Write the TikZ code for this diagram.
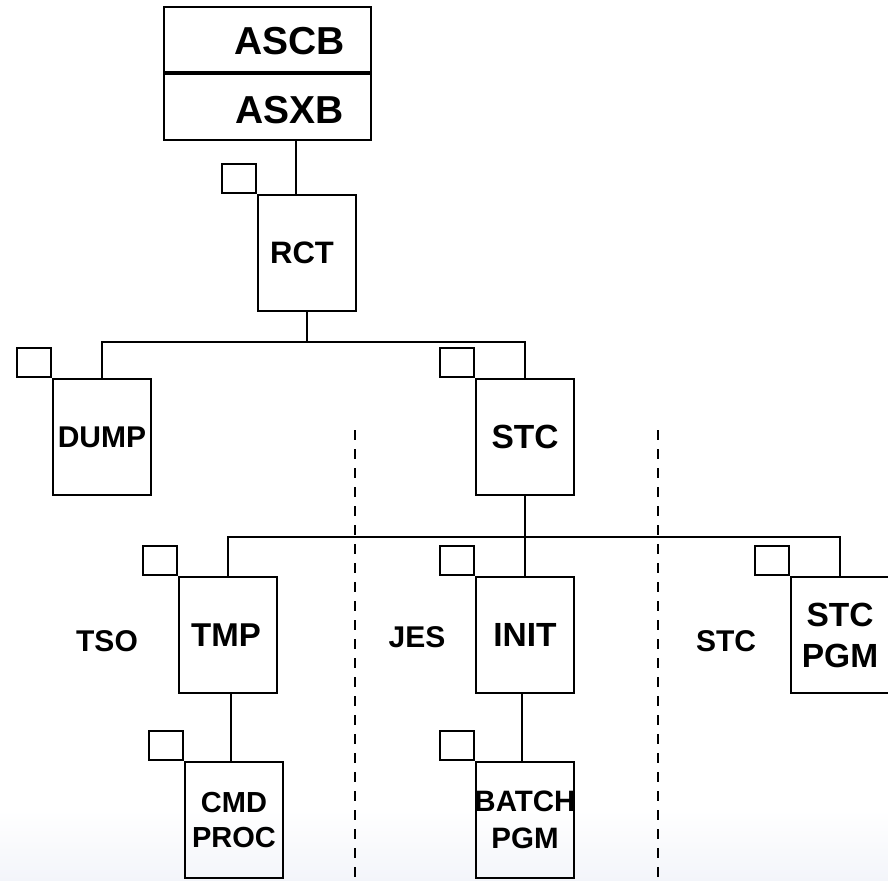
\documentclass[tikz,border=0pt]{standalone}
\usepackage{fontspec}
\setmainfont{Liberation Sans}
\usetikzlibrary{calc}
\definecolor{bgblue}{RGB}{243,245,250}
\newcommand\fsz[2]{\fontsize{#1}{#2}\selectfont\bfseries}
\begin{document}
\begin{tikzpicture}[x=1pt,y=-1pt,
  ln/.style={line width=2pt},
  box/.style={draw, ln, minimum width=98pt, minimum height=116pt, inner sep=0pt, font=\fsz{30}{37}, align=center},
  tab/.style={draw, ln, minimum width=34pt, minimum height=29pt, inner sep=0pt, anchor=south east},
  hdr/.style={draw, ln, minimum width=207pt, inner sep=0pt},
  txt/.style={font=\fsz{30}{37}, inner sep=0pt},
  sepline/.style={line width=2pt, dash pattern=on 10pt off 9pt}]

\fill[top color=white, bottom color=bgblue] (0,810) rectangle (888,880);
\useasboundingbox (0,0) rectangle (888,880);
\clip (0,0) rectangle (888,880);

% header block
\node[hdr, minimum height=65pt] (ascb) at (267.5,39.5) {};
\node[hdr, minimum height=66pt, anchor=north] (asxb) at (ascb.south) {};
\node[txt, font=\fsz{39}{44}] (ascbt) at ([xshift=22pt,yshift=-2pt]ascb.center) {ASCB};
\node[txt, font=\fsz{39}{44}] (asxbt) at ([xshift=22pt,yshift=-3.5pt]asxb.center) {ASXB};

% boxes
\node[box, font=\fsz{31}{37}] (rct) at (307,253) {\hspace*{-10pt}RCT};
\node[box] (dump) at (102,437) {DUMP};
\node[box, font=\fsz{33.5}{37}] (stc) at (525,437) {STC};
\node[box, font=\fsz{33}{37}] (tmp) at (228,635) {\hspace*{-4pt}TMP};
\node[box, font=\fsz{33.5}{37}] (init) at (525,635) {INIT};
\node[box, font=\fsz{33.5}{41}] (stcpgm) at (840,635) {STC\\PGM};
\node[box, font=\fsz{29}{35}] (cmd) at (234,820) {CMD\\PROC};
\node[box, font=\fsz{29.5}{37}] (batch) at (525,820) {\makebox[0pt]{BATCH}\\PGM};

% small squares
\foreach \n in {rct,dump,stc,tmp,init,stcpgm,cmd,batch}
  \node[tab] (\n-tab) at (\n.north west) {};

% side labels
\node[txt] (tso) at (107,641) {TSO};
\node[txt] (jes) at (417,637) {JES};
\node[txt] (stcl) at (726,641) {STC};

% connectors
\draw[ln] ([xshift=28.5pt]asxb.south) -- ([xshift=28.5pt]asxb.south |- rct.north);
\draw[ln] (rct.south) -- ++(0,30) coordinate (j1);
\draw[ln] (dump.north) |- (j1) -| (stc.north);
\draw[ln] (stc.south) -- ++(0,41) coordinate (j2);
\draw[ln] (tmp.north) |- (j2) -| (stcpgm.north);
\draw[ln] (j2) -- (init.north);
\draw[ln] ([xshift=3pt]tmp.south) -- ([xshift=3pt]tmp.south |- cmd.north);
\draw[ln] ([xshift=-3pt]init.south) -- ([xshift=-3pt]init.south |- batch.north);

% dashed separators
\coordinate (d1t) at (355,430);
\coordinate (d1b) at (355,880);
\coordinate (d2t) at (658,430);
\coordinate (d2b) at (658,880);
\draw[sepline] (d1t) -- (d1b);
\draw[sepline] (d2t) -- (d2b);
\end{tikzpicture}
\end{document}
